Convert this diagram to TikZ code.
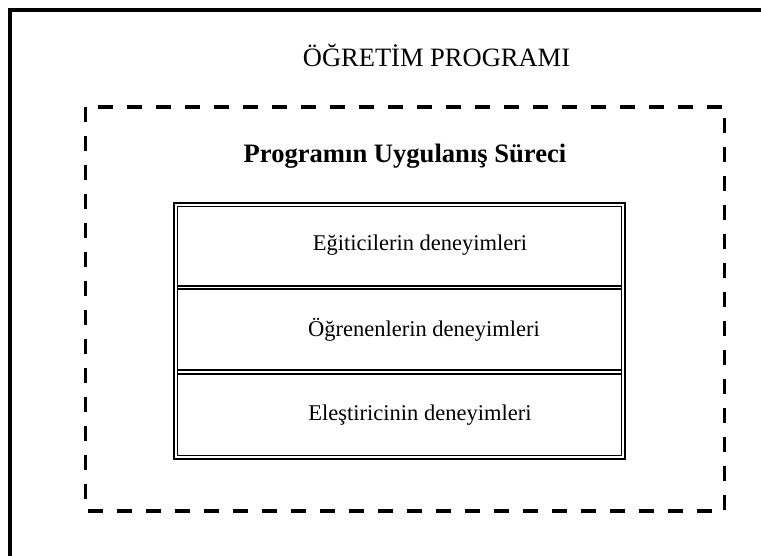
\documentclass[tikz,border=0pt]{standalone}
\usepackage{fontspec}
\setmainfont{Liberation Serif}
\usetikzlibrary{calc}
\newcommand{\OUTERPT}{4pt}
\newcommand{\DASHPT}{3.5pt}
\newcommand{\THICKPT}{2.6pt}
\newcommand{\THINPT}{1.3pt}
\tikzset{
	txt/.style={font=\fontsize{22.5}{27}\selectfont, inner sep=0pt, anchor=center},
	headtxt/.style={font=\fontsize{26.5}{31}\selectfont, inner sep=0pt, anchor=base},
	dashbox/.style={line width=\DASHPT, dash pattern=on 15pt off 14pt},
}
\begin{document}
\begin{tikzpicture}[x=1pt,y=-1pt]
	\useasboundingbox (0,0) rectangle (761,556);
	
	%% outer frame (only top and left visible)
	\coordinate (o1) at (10,556);
	\coordinate (o2) at (10,10);
	\coordinate (o3) at (761,10);
	\draw[line width=\OUTERPT] (o1) -- (o2) -- (o3);
	\node[headtxt] (title) at (436.5,67) {ÖĞRETİM PROGRAMI};
	
	%% dashed box
	\coordinate (d1) at (85.5,107);
	\coordinate (d2) at (724.5,511);
	\draw[dashbox] (d1) rectangle (d2);
	\node[headtxt, font=\fontsize{26.6}{31}\selectfont\bfseries] (sub) at (405,163) {Programın Uygulanış Süreci};
	
	%% table
	\coordinate (t1) at (174,203);
	\coordinate (t2) at (625,459);
	\coordinate (i1) at (177.5,206.5);
	\coordinate (i2) at (621.5,455.5);
	\draw[line width=\THICKPT] (t1) rectangle (t2);
	\draw[line width=\THINPT] (i1) rectangle (i2);
	\draw[line width=2pt] (i1 |- 0,286) -- (i2 |- 0,286);
	\draw[line width=2pt] (i1 |- 0,289.5) -- (i2 |- 0,289.5);
	\draw[line width=2pt] (i1 |- 0,370) -- (i2 |- 0,370);
	\draw[line width=2pt] (i1 |- 0,373.5) -- (i2 |- 0,373.5);
	
	\node[txt] (row1) at (420,245) {Eğiticilerin deneyimleri};
	\node[txt] (row2) at (424,330) {Öğrenenlerin deneyimleri};
	\node[txt] (row3) at (420,415) {Eleştiricinin deneyimleri};
	
\end{tikzpicture}
\end{document}
